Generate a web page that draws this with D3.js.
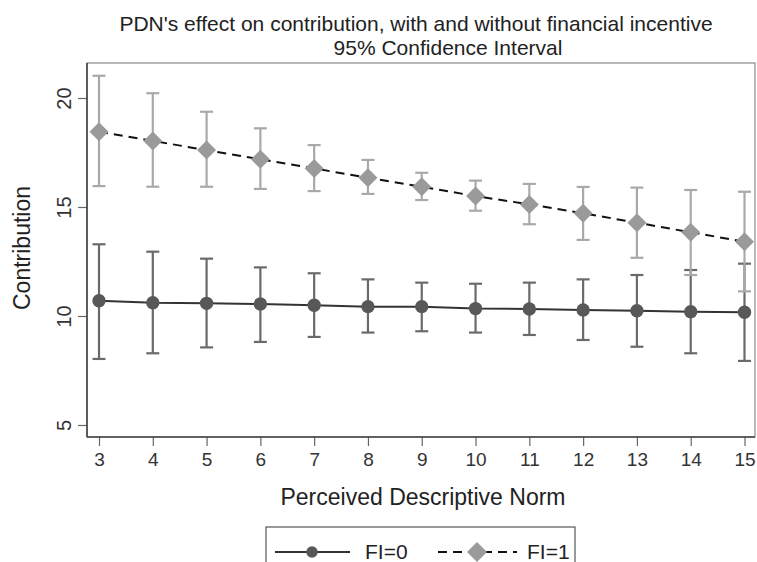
<!DOCTYPE html>
<html>
<head>
<meta charset="utf-8">
<script src="https://cdn.jsdelivr.net/npm/d3@7/dist/d3.min.js"></script>
<style>
  html, body { margin: 0; padding: 0; background: #fff; }
  svg { display: block; font-family: "Liberation Sans", Arial, sans-serif; }
</style>
</head>
<body>
<svg id="chart" width="757" height="562"></svg>
<script>
// ---- data ----
const pdn = [3, 4, 5, 6, 7, 8, 9, 10, 11, 12, 13, 14, 15];
const fi0Mean  = [10.70, 10.61, 10.58, 10.55, 10.49, 10.43, 10.43, 10.34, 10.32, 10.28, 10.24, 10.20, 10.17];
const fi0Lower = [8.03, 8.29, 8.56, 8.81, 9.04, 9.24, 9.30, 9.24, 9.13, 8.90, 8.59, 8.29, 7.94];
const fi0Upper = [13.29, 12.95, 12.63, 12.23, 11.96, 11.68, 11.53, 11.48, 11.53, 11.68, 11.88, 12.11, 12.40];
const fi1Mean  = [18.45, 18.03, 17.61, 17.19, 16.77, 16.34, 15.93, 15.50, 15.12, 14.71, 14.28, 13.84, 13.41];
const fi1Lower = [15.96, 15.93, 15.93, 15.83, 15.73, 15.60, 15.32, 14.83, 14.21, 13.49, 12.67, 11.88, 11.13];
const fi1Upper = [21.02, 20.22, 19.37, 18.61, 17.84, 17.16, 16.57, 16.21, 16.06, 15.92, 15.89, 15.78, 15.70];
const yTicks = [5, 10, 15, 20];
const xTicks = [3, 4, 5, 6, 7, 8, 9, 10, 11, 12, 13, 14, 15];
const seriesNames = ["FI=0", "FI=1"];
const titleLines = ["PDN's effect on contribution, with and without financial incentive", "95% Confidence Interval"];
const xTitle = "Perceived Descriptive Norm";
const yTitle = "Contribution";

// ---- layout ----
const svg = d3.select("#chart");
const frame = { left: 87, right: 755, top: 63, bottom: 437 };
const x = d3.scaleLinear().domain([3, 15]).range([99, 744.5]);
const y = d3.scaleLinear().domain([5, 20]).range([425, 98]);

const c0 = { bar: "#6a6a6a", marker: "#585858", line: "#333333" };
const c1 = { bar: "#a9a9a9", marker: "#9a9a9a", line: "#111111" };

// frame
svg.append("rect")
  .attr("x", frame.left).attr("y", frame.top)
  .attr("width", frame.right - frame.left).attr("height", frame.bottom - frame.top)
  .attr("fill", "none").attr("stroke", "#8a8a8a").attr("stroke-width", 1.2);

// axes
const yAxis = d3.axisLeft(y).tickValues(yTicks).tickSize(9).tickPadding(0).tickFormat(d3.format("d"));
const gy = svg.append("g").attr("transform", `translate(${frame.left},0)`).call(yAxis);
gy.select(".domain").remove();
gy.append("line").attr("x1", 0).attr("x2", 0).attr("y1", frame.top).attr("y2", frame.bottom)
  .attr("stroke", "#444").attr("stroke-width", 1.6);
gy.selectAll(".tick line").attr("stroke", "#666").attr("stroke-width", 1.2);
gy.selectAll(".tick text")
  .attr("font-size", 20).attr("fill", "#333")
  .attr("text-anchor", "middle")
  .attr("x", null).attr("dy", null)
  .attr("transform", "translate(-16,0) rotate(-90)");

const xAxis = d3.axisBottom(x).tickValues(xTicks).tickSize(9).tickPadding(7).tickFormat(d3.format("d"));
const gx = svg.append("g").attr("transform", `translate(0,${frame.bottom})`).call(xAxis);
gx.select(".domain").remove();
gx.append("line").attr("x1", frame.left).attr("x2", frame.right).attr("y1", 0).attr("y2", 0)
  .attr("stroke", "#444").attr("stroke-width", 1.6);
gx.selectAll(".tick line").attr("stroke", "#666").attr("stroke-width", 1.2);
gx.selectAll(".tick text").attr("font-size", 19).attr("fill", "#333");

// titles
svg.append("text").attr("x", 416).attr("y", 31).attr("text-anchor", "middle")
  .attr("font-size", 21).attr("fill", "#222").text(titleLines[0]);
svg.append("text").attr("x", 448).attr("y", 55).attr("text-anchor", "middle")
  .attr("font-size", 21).attr("fill", "#222").text(titleLines[1]);
svg.append("text").attr("x", 423).attr("y", 505).attr("text-anchor", "middle")
  .attr("font-size", 23).attr("fill", "#222").text(xTitle);
svg.append("text").attr("transform", "translate(30,248) rotate(-90)").attr("text-anchor", "middle")
  .attr("font-size", 23).attr("fill", "#222").text(yTitle);

// error bars
function bars(lower, upper, color) {
  const g = svg.append("g").attr("stroke", color).attr("stroke-width", 2.2).attr("fill", "none");
  const capW = 6.5;
  pdn.forEach((p, i) => {
    g.append("line").attr("x1", x(p)).attr("x2", x(p)).attr("y1", y(lower[i])).attr("y2", y(upper[i]));
    g.append("line").attr("x1", x(p) - capW).attr("x2", x(p) + capW).attr("y1", y(lower[i])).attr("y2", y(lower[i]));
    g.append("line").attr("x1", x(p) - capW).attr("x2", x(p) + capW).attr("y1", y(upper[i])).attr("y2", y(upper[i]));
  });
}
bars(fi0Lower, fi0Upper, c0.bar);
bars(fi1Lower, fi1Upper, c1.bar);

// lines
const line = d3.line().x(d => x(d[0])).y(d => y(d[1]));
svg.append("path").datum(pdn.map((p, i) => [p, fi0Mean[i]]))
  .attr("d", line).attr("fill", "none").attr("stroke", c0.line).attr("stroke-width", 2);
svg.append("path").datum(pdn.map((p, i) => [p, fi1Mean[i]]))
  .attr("d", line).attr("fill", "none").attr("stroke", c1.line).attr("stroke-width", 2)
  .attr("stroke-dasharray", "9,6");

// markers
const circ = d3.symbol().type(d3.symbolCircle).size(Math.PI * 6.7 * 6.7);
svg.append("g").selectAll("path").data(pdn.map((p, i) => [p, fi0Mean[i]])).join("path")
  .attr("d", circ).attr("transform", d => `translate(${x(d[0])},${y(d[1])})`)
  .attr("fill", c0.marker);
const diamond = (cx, cy, r) => `M${cx},${cy - r}L${cx + r},${cy}L${cx},${cy + r}L${cx - r},${cy}Z`;
svg.append("g").selectAll("path").data(pdn.map((p, i) => [p, fi1Mean[i]])).join("path")
  .attr("d", d => diamond(x(d[0]), y(d[1]), 9.5))
  .attr("fill", c1.marker);

// legend
const lg = svg.append("g");
lg.append("rect").attr("x", 266).attr("y", 527).attr("width", 309).attr("height", 60)
  .attr("fill", "#fff").attr("stroke", "#555").attr("stroke-width", 1.2);
const ly = 552;
lg.append("line").attr("x1", 275).attr("x2", 350).attr("y1", ly).attr("y2", ly)
  .attr("stroke", c0.line).attr("stroke-width", 2);
lg.append("path").attr("d", d3.symbol().type(d3.symbolCircle).size(Math.PI * 5.8 * 5.8)())
  .attr("transform", `translate(312,${ly})`).attr("fill", c0.marker);
lg.append("text").attr("x", 365).attr("y", ly + 7).attr("font-size", 21).attr("fill", "#222").text(seriesNames[0]);
lg.append("line").attr("x1", 438).attr("x2", 517).attr("y1", ly).attr("y2", ly)
  .attr("stroke", c1.line).attr("stroke-width", 2).attr("stroke-dasharray", "9,6");
lg.append("path").attr("d", diamond(477, ly, 10)).attr("fill", c1.marker);
lg.append("text").attr("x", 527).attr("y", ly + 7).attr("font-size", 21).attr("fill", "#222").text(seriesNames[1]);
</script>
</body>
</html>
